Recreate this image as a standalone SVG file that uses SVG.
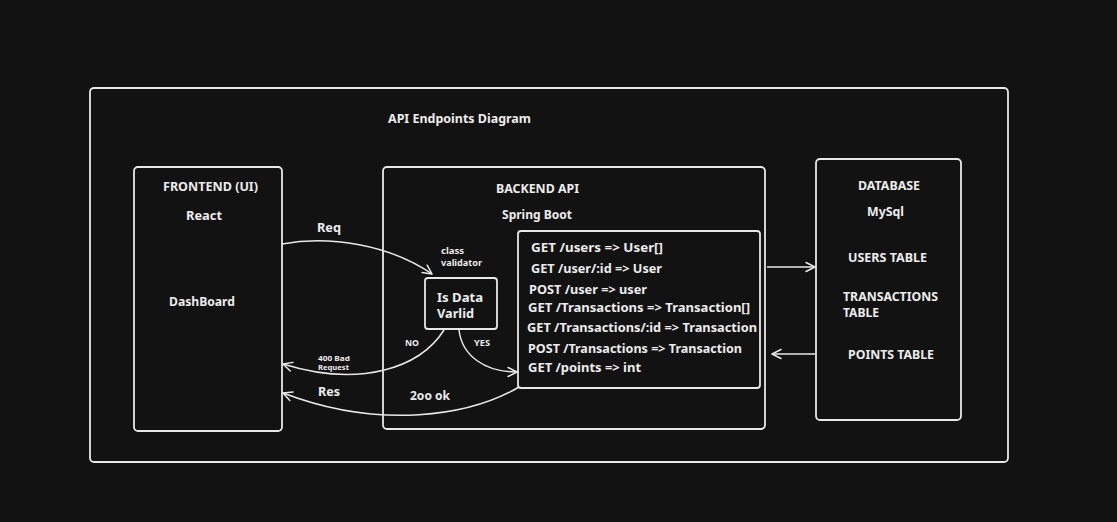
<svg xmlns="http://www.w3.org/2000/svg" width="1117" height="522" viewBox="0 0 1117 522">
<defs>
<marker id="ah" viewBox="0 0 12 12" refX="11" refY="6" markerWidth="12" markerHeight="12" markerUnits="userSpaceOnUse" orient="auto">
<path d="M2 1.5 L11 6 L2 10.5" fill="none" stroke="#e8e8e8" stroke-width="1.5" stroke-linecap="round" stroke-linejoin="round"/>
</marker>
<style>
.box{fill:none;stroke:#e8e8e8;stroke-width:1.8}
.t{font-family:"Noto Sans","Liberation Sans",sans-serif;font-weight:700;font-size:12px;fill:#ececec}
.s{font-family:"Noto Sans","Liberation Sans",sans-serif;font-weight:700;font-size:9px;fill:#ececec}
.xs{font-family:"Noto Sans","Liberation Sans",sans-serif;font-weight:700;font-size:7.5px;fill:#ececec}
.c{fill:none;stroke:#e8e8e8;stroke-width:1.5;marker-end:url(#ah)}
</style>
</defs>
<rect width="1117" height="522" fill="#121212"/>
<g id="frame">
<rect class="box" x="90" y="88" width="918" height="374" rx="4"/>
<text class="t" x="388" y="123" textLength="143" lengthAdjust="spacingAndGlyphs">API Endpoints Diagram</text>
</g>
<g id="frontend">
<rect class="box" x="134" y="167" width="148" height="264" rx="4"/>
<text class="t" x="163" y="191" textLength="95" lengthAdjust="spacingAndGlyphs">FRONTEND (UI)</text>
<text class="t" x="186" y="220" textLength="36" lengthAdjust="spacingAndGlyphs">React</text>
<text class="t" x="169" y="306" textLength="66" lengthAdjust="spacingAndGlyphs">DashBoard</text>
</g>
<g id="backend">
<rect class="box" x="383" y="167" width="382" height="262" rx="4"/>
<text class="t" x="496" y="193" textLength="83" lengthAdjust="spacingAndGlyphs">BACKEND API</text>
<text class="t" x="502" y="219" textLength="70" lengthAdjust="spacingAndGlyphs">Spring Boot</text>
</g>
<g id="validator">
<text class="s" x="441" y="254" textLength="23" lengthAdjust="spacingAndGlyphs">class</text>
<text class="s" x="441" y="266" textLength="41" lengthAdjust="spacingAndGlyphs">validator</text>
<rect class="box" x="425" y="278" width="72" height="51" rx="3"/>
<text class="t" x="437" y="302" textLength="46" lengthAdjust="spacingAndGlyphs">Is Data</text>
<text class="t" x="437" y="318" textLength="37" lengthAdjust="spacingAndGlyphs">Varlid</text>
</g>
<g id="endpoints">
<rect class="box" x="518" y="231" width="242" height="157" rx="3"/>
<text class="t" x="531" y="252" textLength="132" lengthAdjust="spacingAndGlyphs">GET /users =&gt; User[]</text>
<text class="t" x="531" y="273" textLength="131" lengthAdjust="spacingAndGlyphs">GET /user/:id =&gt; User</text>
<text class="t" x="529" y="294" textLength="118" lengthAdjust="spacingAndGlyphs">POST /user =&gt; user</text>
<text class="t" x="528" y="312" textLength="222" lengthAdjust="spacingAndGlyphs">GET /Transactions =&gt; Transaction[]</text>
<text class="t" x="527" y="332" textLength="230" lengthAdjust="spacingAndGlyphs">GET /Transactions/:id =&gt; Transaction</text>
<text class="t" x="528" y="353" textLength="214" lengthAdjust="spacingAndGlyphs">POST /Transactions =&gt; Transaction</text>
<text class="t" x="528" y="372" textLength="113" lengthAdjust="spacingAndGlyphs">GET /points =&gt; int</text>
</g>
<g id="database">
<rect class="box" x="816" y="159" width="145" height="261" rx="4"/>
<text class="t" x="858" y="190" textLength="62" lengthAdjust="spacingAndGlyphs">DATABASE</text>
<text class="t" x="867" y="216" textLength="37" lengthAdjust="spacingAndGlyphs">MySql</text>
<text class="t" x="848" y="262" textLength="79" lengthAdjust="spacingAndGlyphs">USERS TABLE</text>
<text class="t" x="843" y="301" textLength="95" lengthAdjust="spacingAndGlyphs">TRANSACTIONS</text>
<text class="t" x="843" y="317" textLength="36" lengthAdjust="spacingAndGlyphs">TABLE</text>
<text class="t" x="848" y="359" textLength="86" lengthAdjust="spacingAndGlyphs">POINTS TABLE</text>
</g>
<g id="connectors">
<path class="c" d="M282 244 C330 235 390 245 432 274"/>
<text class="t" x="317" y="232" textLength="24" lengthAdjust="spacingAndGlyphs">Req</text>
<path class="c" d="M444 330 C420 368 360 388 283 364"/>
<text class="s" x="405" y="346" textLength="14" lengthAdjust="spacingAndGlyphs">NO</text>
<text class="xs" x="318" y="361" textLength="32" lengthAdjust="spacingAndGlyphs">400 Bad</text>
<text class="xs" x="318" y="370" textLength="31" lengthAdjust="spacingAndGlyphs">Request</text>
<path class="c" d="M459 330 C462 356 485 372 517 372"/>
<text class="s" x="474" y="346" textLength="16" lengthAdjust="spacingAndGlyphs">YES</text>
<path class="c" d="M519 387 C470 416 380 430 283 393"/>
<text class="t" x="318" y="396" textLength="22" lengthAdjust="spacingAndGlyphs">Res</text>
<text class="t" x="410" y="400" textLength="40" lengthAdjust="spacingAndGlyphs">2oo ok</text>
<path class="c" d="M767 267 L815 267"/>
<path class="c" d="M815 354 L772 354"/>
</g>
</svg>
